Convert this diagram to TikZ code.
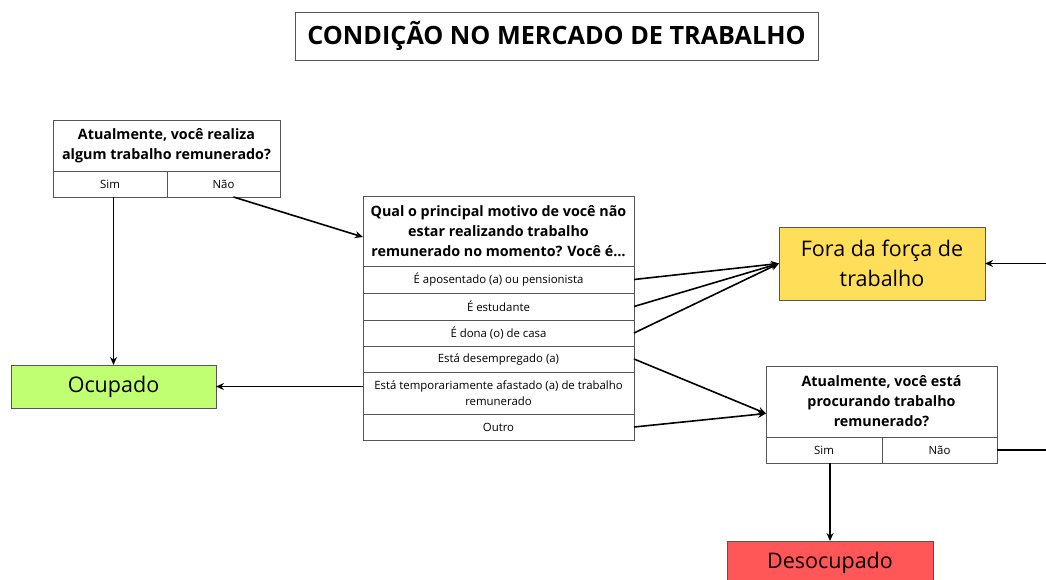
\documentclass[tikz,border=0pt]{standalone}
\usepackage{fontspec}
\setmainfont{Open Sans}
\usepackage{tikz}
\usetikzlibrary{arrows.meta, positioning, calc}
\definecolor{boxline}{HTML}{555555}
\definecolor{foracol}{HTML}{FFDE59}
\definecolor{ocupcol}{HTML}{C1FF72}
\definecolor{desocol}{HTML}{FF5757}

\begin{document}
\begin{tikzpicture}[
  x=1pt, y=-1pt,
  question/.style={draw=boxline, line width=0.9pt, fill=white, align=center, inner sep=0pt, outer sep=0pt, font=\fontsize{14.3}{20}\selectfont\bfseries},
  option/.style={draw=boxline, line width=0.9pt, fill=white, align=center, inner sep=0pt, outer sep=0pt, font=\fontsize{11.4}{16}\selectfont},
  result/.style={draw=boxline, line width=0.9pt, align=center, inner sep=0pt, outer sep=0pt, font=\fontsize{21.5}{30}\selectfont},
  link/.style={line width=1.6pt, -{Stealth[length=8pt,width=7pt]}}
]
\path[use as bounding box] (0,0) rectangle (1046,579);
\clip (0,0) rectangle (1046,579);

% title
\node[draw=boxline, line width=1pt, minimum width=523pt, minimum height=48pt, inner sep=0pt,
      font=\fontsize{25.2}{30}\selectfont\bfseries] (title) at (556.5,36) {CONDIÇÃO NO MERCADO DE TRABALHO};

% first question
\node[question, minimum width=227pt, minimum height=51pt] (q1) at (166.5,145.5)
  {Atualmente, você realiza\\algum trabalho remunerado?};
\node[option, minimum width=114pt, minimum height=26pt, anchor=north west] (q1sim) at (q1.south west) {Sim};
\node[option, minimum width=113pt, minimum height=26pt, anchor=north east] (q1nao) at (q1.south east) {Não};

% second question
\node[question, minimum width=271pt, minimum height=70pt] (q2) at (498.5,231)
  {Qual o principal motivo de você não\\estar realizando trabalho\\remunerado no momento? Você é…};
\node[option, minimum width=271pt, minimum height=27pt, below=0pt of q2] (r1) {É aposentado (a) ou pensionista};
\node[option, minimum width=271pt, minimum height=27pt, below=0pt of r1] (r2) {É estudante};
\node[option, minimum width=271pt, minimum height=26pt, below=0pt of r2] (r3) {É dona (o) de casa};
\node[option, minimum width=271pt, minimum height=26pt, below=0pt of r3] (r4) {Está desempregado (a)};
\node[option, minimum width=271pt, minimum height=42pt, below=0pt of r4] (r5) {Está temporariamente afastado (a) de trabalho\\remunerado};
\node[option, minimum width=271pt, minimum height=26pt, below=0pt of r5] (r6) {Outro};

% third question
\node[question, minimum width=231pt, minimum height=71pt] (q3) at (881.5,401.5)
  {Atualmente, você está\\procurando trabalho\\remunerado?};
\node[option, minimum width=116pt, minimum height=26pt, anchor=north west] (q3sim) at (q3.south west) {Sim};
\node[option, minimum width=115pt, minimum height=26pt, anchor=north east] (q3nao) at (q3.south east) {Não};

% results
\node[result, fill=foracol, minimum width=206pt, minimum height=73pt] (fora) at (882,263.5) {Fora da força de\\trabalho};
\node[result, fill=ocupcol, minimum width=205pt, minimum height=43pt] (ocup) at (113.5,386.5) {Ocupado};
\node[result, fill=desocol, minimum width=206pt, minimum height=44pt] (desoc) at (830,563) {Desocupado};

% connectors
\draw[link] (ocup.north |- q1sim.south) -- (ocup.north);
\draw[link] ([xshift=10pt]q1nao.south) -- ([yshift=-6pt]q2.west);
\foreach \r in {r1,r2,r3}
  \draw[link] (\r.east) -- (fora.west);
\draw[link] (r4.east) -- ([yshift=-12pt]q3.west);
\draw[link] (r6.east) -- ([yshift=-12pt]q3.west);
\draw[link] (ocup.east -| r5.west) -- (ocup.east);
\draw[link] (desoc.north |- q3sim.south) -- (desoc.north);
\draw[link] (q3nao.east) -- ++(70,0) |- (fora.east);
\end{tikzpicture}
\end{document}
